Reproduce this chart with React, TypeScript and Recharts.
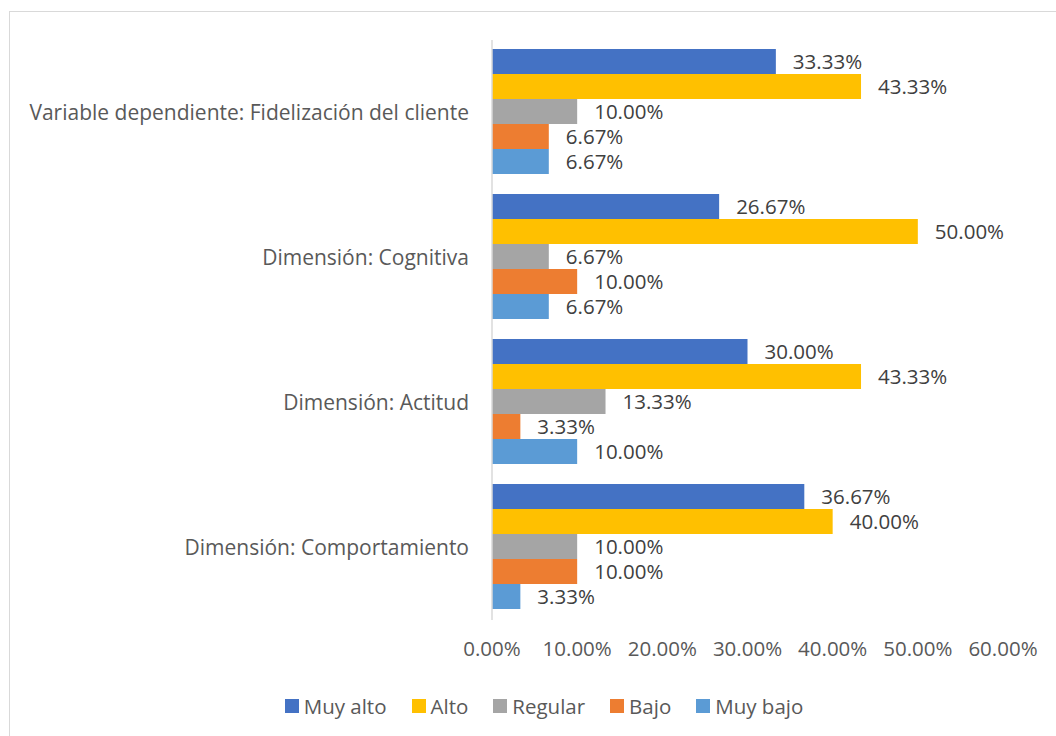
import React from 'react';
import { BarChart, Bar, XAxis, YAxis, Legend, LabelList } from 'recharts';

const categories = [
  'Variable dependiente: Fidelización del cliente',
  'Dimensión: Cognitiva',
  'Dimensión: Actitud',
  'Dimensión: Comportamiento',
];

const muyAlto = [33.33, 26.67, 30.0, 36.67];
const alto = [43.33, 50.0, 43.33, 40.0];
const regular = [10.0, 6.67, 13.33, 10.0];
const bajo = [6.67, 10.0, 3.33, 10.0];
const muyBajo = [6.67, 6.67, 10.0, 3.33];

const xTicks = [0, 10, 20, 30, 40, 50, 60];

const series = [
  { key: 'muyAlto', name: 'Muy alto', color: '#4472C4' },
  { key: 'alto', name: 'Alto', color: '#FFC000' },
  { key: 'regular', name: 'Regular', color: '#A5A5A5' },
  { key: 'bajo', name: 'Bajo', color: '#ED7D31' },
  { key: 'muyBajo', name: 'Muy bajo', color: '#5B9BD5' },
];

const data = categories.map((name, i) => ({
  name,
  muyAlto: muyAlto[i],
  alto: alto[i],
  regular: regular[i],
  bajo: bajo[i],
  muyBajo: muyBajo[i],
}));

const FONT = '"Open Sans", sans-serif';
const FS = 20.5;
const pct = (v: any) => `${Number(v).toFixed(2)}%`;

const CustomLegend: React.FC<any> = () => (
  <div style={{ display: 'flex', justifyContent: 'center', paddingLeft: 110, fontFamily: FONT, fontSize: FS, color: '#595959', lineHeight: '24px' }}>
    {series.map((s) => (
      <div key={s.key} style={{ display: 'flex', alignItems: 'center', marginRight: 25 }}>
        <span style={{ display: 'inline-block', width: 14, height: 14, background: s.color, marginRight: 5 }} />
        <span>{s.name}</span>
      </div>
    ))}
  </div>
);

export default function App() {
  return (
    <div style={{ position: 'absolute', left: 0, top: 0, width: 1056, height: 736, background: '#fff' }}>
      <div
        style={{
          position: 'absolute', left: 9, top: 11, width: 1047, height: 725,
          borderLeft: '1px solid #d9d9d9', borderTop: '1px solid #d9d9d9', boxSizing: 'border-box',
        }}
      />
      <BarChart
        width={1056}
        height={736}
        data={data}
        layout="vertical"
        margin={{ top: 40, right: 53, left: 0, bottom: 18 }}
        barCategoryGap={9}
        barGap={0}
        style={{ position: 'absolute', left: 0, top: 0 }}
      >
        <XAxis
          type="number"
          domain={[0, 60]}
          ticks={xTicks}
          tickFormatter={pct}
          axisLine={false}
          tickLine={false}
          tickSize={0}
          tickMargin={21}
          height={74}
          tick={{ fill: '#595959', fontSize: FS, fontFamily: FONT }}
        />
        <YAxis
          type="category"
          dataKey="name"
          width={492}
          axisLine={{ stroke: '#d9d9d9', strokeWidth: 1.5 }}
          tickLine={false}
          tickSize={0}
          tickMargin={23}
          tick={{ fill: '#595959', fontSize: 21, fontFamily: FONT }}
        />
        <Legend verticalAlign="bottom" height={24} content={<CustomLegend />} />
        {series.map((s) => (
          <Bar key={s.key} dataKey={s.key} name={s.name} fill={s.color} isAnimationActive={false}>
            <LabelList
              dataKey={s.key}
              position="right"
              offset={17}
              formatter={pct}
              style={{ fill: '#404040', fontSize: FS, fontFamily: FONT }}
            />
          </Bar>
        ))}
      </BarChart>
    </div>
  );
}
